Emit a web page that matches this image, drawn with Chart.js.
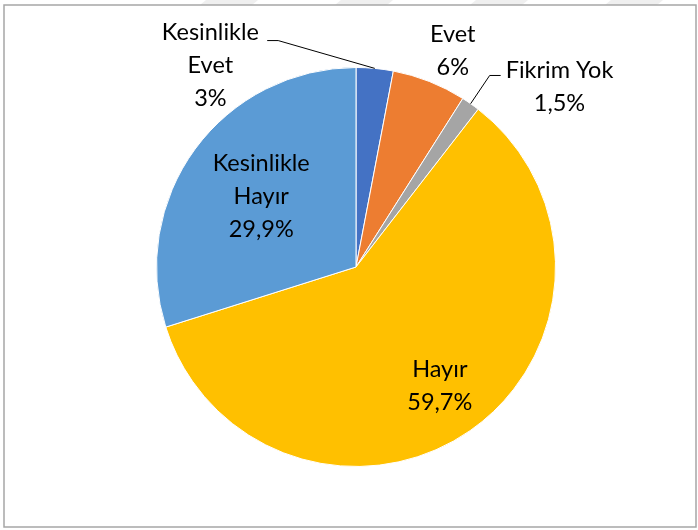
<!DOCTYPE html>
<html><head><meta charset="utf-8">
<script src="https://cdn.jsdelivr.net/npm/chart.js@4/dist/chart.umd.min.js"></script>
<style>html,body{margin:0;padding:0;background:#fff}#wrap{width:698px;height:530px;position:relative}</style>
</head><body><div id="wrap"><canvas id="c" width="698" height="530"></canvas></div>
<script>
const categories = ["Kesinlikle Evet", "Evet", "Fikrim Yok", "Hayır", "Kesinlikle Hayır"];
const values = [3, 6, 1.5, 59.7, 29.9];
const valueLabels = ["3%", "6%", "1,5%", "59,7%", "29,9%"];
const labelLines = [["Kesinlikle", "Evet", "3%"], ["Evet", "6%"], ["Fikrim Yok", "1,5%"], ["Hayır", "59,7%"], ["Kesinlikle", "Hayır", "29,9%"]];
const colors = ["#4472C4", "#ED7D31", "#A5A5A5", "#FFC000", "#5B9BD5"];

// label placement relative to pie centre in radius units, plus leader config
const labelPos = [[-0.73, -1.01], [0.485, -1.085], [1.02, -0.905], [0.42, 0.595], [-0.475, -0.355]];
const leaders = [{side: -1, ex: -0.39, ey: -1.135}, null, {side: 1, ex: 0.67, ey: -0.96}, null, null];

const FONT = '23.5px "Lato", "Liberation Sans", sans-serif';
const labelPlugin = {
  id: 'labels',
  beforeDraw(chart) {
    const ctx = chart.ctx;
    ctx.save();
    ctx.fillStyle = '#fff';
    ctx.fillRect(0, 0, chart.width, chart.height);
    // faint watermark strokes above the frame
    ctx.fillStyle = '#EFEFEF';
    [200, 335, 470, 605].forEach(x0 => {
      ctx.beginPath();
      ctx.moveTo(x0 + 6, 0); ctx.lineTo(x0 + 58, 0);
      ctx.lineTo(x0 + 52, 5); ctx.lineTo(x0, 5);
      ctx.closePath(); ctx.fill();
    });
    ctx.strokeStyle = '#A6A6A6';
    ctx.lineWidth = 1.5;
    ctx.strokeRect(4, 5, 692, 522);
    ctx.restore();
  },
  afterDatasetsDraw(chart) {
    const ctx = chart.ctx;
    const meta = chart.getDatasetMeta(0);
    ctx.save();
    ctx.font = FONT;
    ctx.fillStyle = '#000';
    ctx.textAlign = 'center';
    ctx.textBaseline = 'middle';
    meta.data.forEach((arc, i) => {
      const p = arc.getProps(['x', 'y', 'outerRadius', 'startAngle', 'endAngle'], true);
      const R = p.outerRadius;
      const lx = p.x + labelPos[i][0] * R;
      const ly = p.y + labelPos[i][1] * R;
      const lines = labelLines[i];
      const lh = 33;
      lines.forEach((t, k) => {
        ctx.fillText(t, lx, ly + (k - (lines.length - 1) / 2) * lh);
      });
      const L = leaders[i];
      if (L) {
        const mid = (p.startAngle + p.endAngle) / 2;
        const ax = p.x + Math.cos(mid) * R;
        const ay = p.y + Math.sin(mid) * R;
        const bx = p.x + L.ex * R;
        const by = p.y + L.ey * R;
        ctx.beginPath();
        ctx.strokeStyle = '#000';
        ctx.lineWidth = 1;
        ctx.moveTo(ax, ay);
        ctx.lineTo(bx, by);
        ctx.lineTo(bx + L.side * 11, by);
        ctx.stroke();
      }
    });
    ctx.restore();
  }
};

new Chart(document.getElementById('c'), {
  type: 'pie',
  data: {
    labels: categories,
    datasets: [{ data: values, backgroundColor: colors, borderColor: '#fff', borderWidth: 1 }]
  },
  options: {
    responsive: false,
    animation: false,
    layout: { padding: { left: 156, right: 142, top: 67, bottom: 63 } },
    plugins: { legend: { display: false }, tooltip: { enabled: false } }
  },
  plugins: [labelPlugin]
});
</script></body></html>
